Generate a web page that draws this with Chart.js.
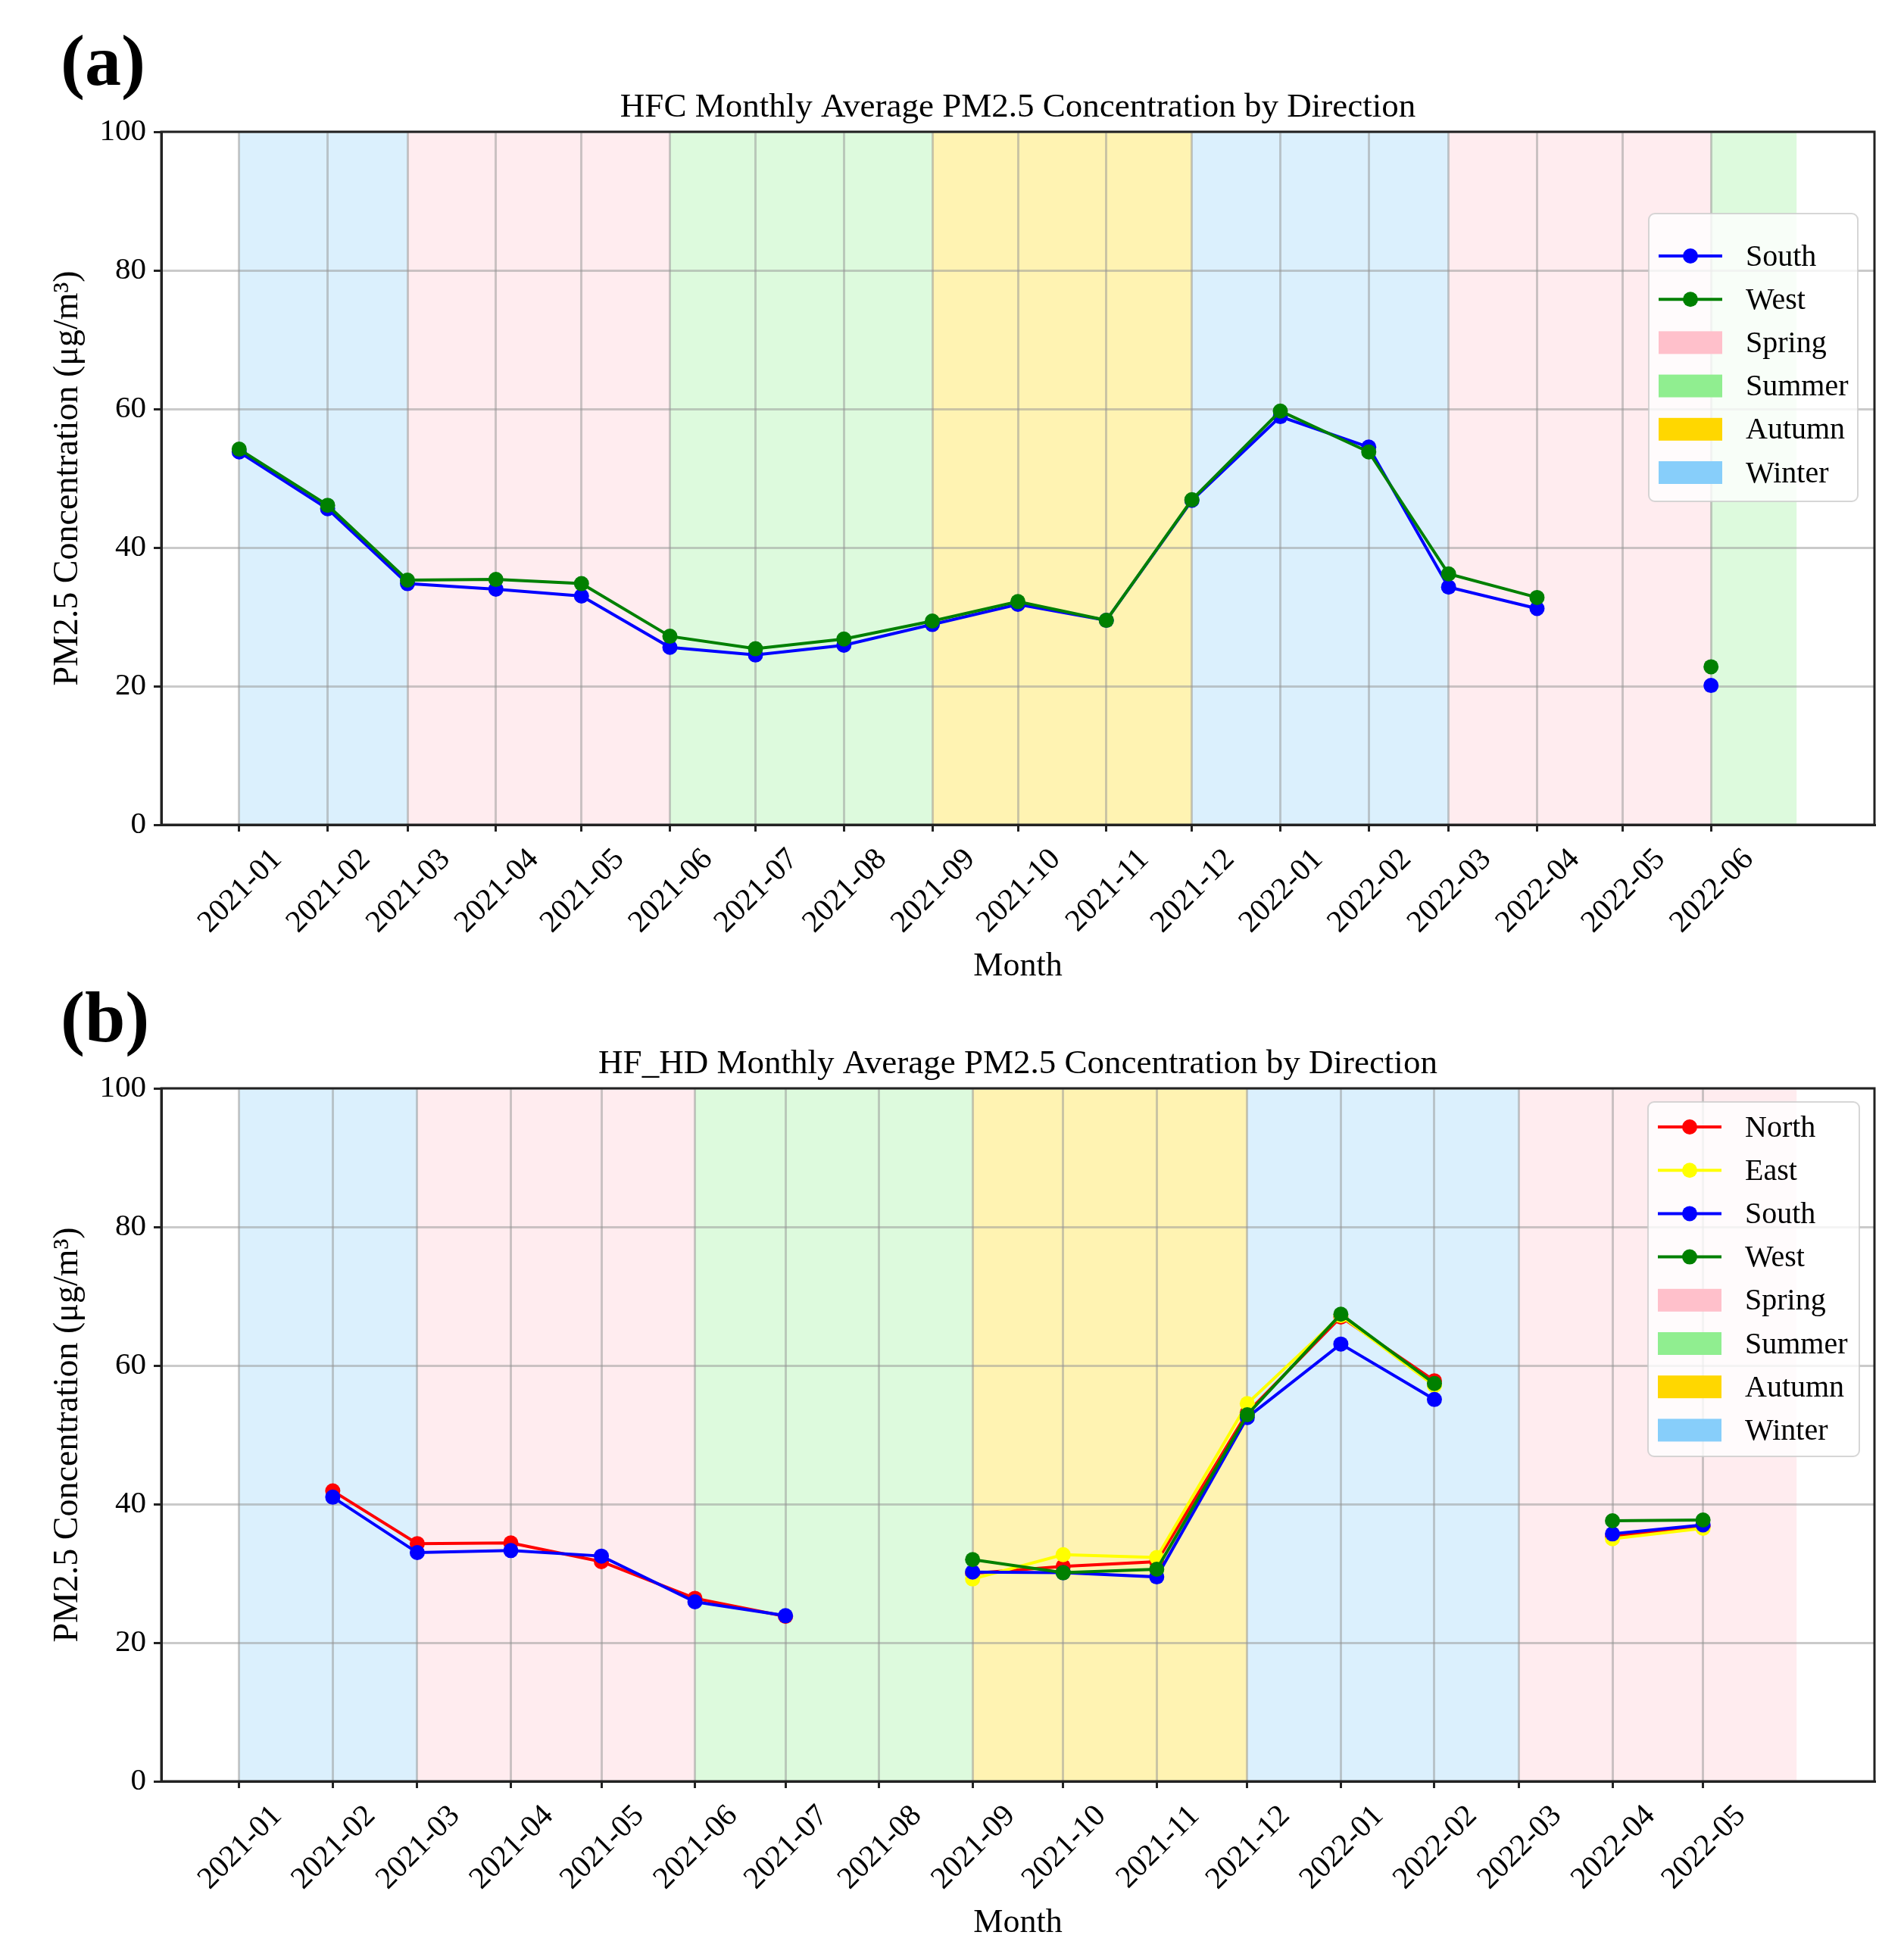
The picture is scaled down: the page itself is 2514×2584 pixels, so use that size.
<!DOCTYPE html>
<html>
<head>
<meta charset="utf-8">
<script src="https://cdn.jsdelivr.net/npm/chart.js@4.4.0/dist/chart.umd.min.js"></script>
<style>
  html, body { margin: 0; padding: 0; background: #fff; }
  #wrap { position: relative; width: 2514px; height: 2584px; overflow: hidden; }
  canvas { position: absolute; left: 0; }
  #chartA { top: 0; }
  #chartB { top: 1263px; }
</style>
</head>
<body>
<div id="wrap">
  <canvas id="chartA" width="2514" height="1321"></canvas>
  <canvas id="chartB" width="2514" height="1321"></canvas>
</div>
<script>
// panel (a): HFC
const monthsA = ['2021-01', '2021-02', '2021-03', '2021-04', '2021-05', '2021-06',
  '2021-07', '2021-08', '2021-09', '2021-10', '2021-11', '2021-12',
  '2022-01', '2022-02', '2022-03', '2022-04', '2022-05', '2022-06'];
const southA = [53.8, 45.6, 34.8, 34.0, 33.0, 25.6, 24.5, 25.9, 28.9, 31.8, 29.5, 46.8,
  58.9, 54.5, 34.3, 31.2, null, 20.1];
const westA = [54.2, 46.1, 35.3, 35.4, 34.8, 27.2, 25.4, 26.8, 29.4, 32.2, 29.5, 46.9,
  59.7, 53.8, 36.2, 32.8, null, 22.8];
const seasonA = ['Winter', 'Spring', 'Summer', 'Autumn', 'Winter', 'Spring', 'Summer'];
const seasonFromA = ['2021-01', '2021-03', '2021-06', '2021-09', '2021-12', '2022-03', '2022-06'];
const seasonToA = ['2021-03', '2021-06', '2021-09', '2021-12', '2022-03', '2022-06', '2022-07'];

// panel (b): HF_HD
const monthsB = ['2021-01', '2021-02', '2021-03', '2021-04', '2021-05', '2021-06',
  '2021-07', '2021-08', '2021-09', '2021-10', '2021-11', '2021-12',
  '2022-01', '2022-02', '2022-03', '2022-04', '2022-05'];
const northB = [null, 41.9, 34.3, 34.4, 31.7, 26.4, 23.8, null, 30.0, 31.0, 31.7, 53.2,
  67.0, 57.8, null, 35.3, 36.8];
const eastB = [null, null, null, null, null, null, null, null, 29.2, 32.7, 32.3, 54.5,
  67.2, 57.1, null, 35.0, 36.5];
const southB = [null, 41.0, 33.0, 33.3, 32.5, 25.9, 23.9, null, 30.2, 30.1, 29.5, 52.5,
  63.1, 55.1, null, 35.7, 37.0];
const westB = [null, null, null, null, null, null, null, null, 32.0, 30.1, 30.6, 52.9,
  67.4, 57.4, null, 37.6, 37.7];
const seasonB = ['Winter', 'Spring', 'Summer', 'Autumn', 'Winter', 'Spring'];
const seasonFromB = ['2021-01', '2021-03', '2021-06', '2021-09', '2021-12', '2022-03'];
const seasonToB = ['2021-03', '2021-06', '2021-09', '2021-12', '2022-03', '2022-06'];

const yTickStep = 20;
const yMax = 100;

const SERIF = '"Liberation Serif", "Times New Roman", serif';
const GRID = 'rgba(150, 150, 150, 0.5)';
const AXIS = '#222';
const SEASON_COLORS = {
  Spring: '#FFC0CB',
  Summer: '#90EE90',
  Autumn: '#FFD700',
  Winter: '#87CEFA',
};
const SEASON_ORDER = ['Spring', 'Summer', 'Autumn', 'Winter'];

Chart.defaults.font.family = SERIF;
Chart.defaults.color = '#000';

// days since 2021-01-01, like matplotlib date axis
function dayOf(label) {
  const [y, m] = label.split('-').map(Number);
  return (Date.UTC(y, m - 1, 1) - Date.UTC(2021, 0, 1)) / 86400000;
}

function withAlpha(hex, a) {
  const n = parseInt(hex.slice(1), 16);
  return `rgba(${(n >> 16) & 255}, ${(n >> 8) & 255}, ${n & 255}, ${a})`;
}

function panelPlugin(p) {
  return {
    id: 'panel' + p.tag,
    beforeDraw(chart) {
      const { ctx, chartArea: a, scales: { x } } = chart;
      ctx.save();
      p.seasons.forEach((name, i) => {
        const x1 = x.getPixelForValue(dayOf(p.from[i]));
        const x2 = x.getPixelForValue(dayOf(p.to[i]));
        ctx.fillStyle = withAlpha(SEASON_COLORS[name], 0.3);
        ctx.fillRect(x1, a.top, x2 - x1, a.bottom - a.top);
      });
      ctx.restore();
    },
    afterDatasetsDraw(chart) {
      const { ctx, chartArea: a } = chart;
      ctx.save();
      ctx.strokeStyle = AXIS;
      ctx.lineWidth = 3;
      ctx.strokeRect(a.left, a.top, a.right - a.left, a.bottom - a.top);
      ctx.restore();
    },
    afterDraw(chart) {
      const ctx = chart.ctx;
      ctx.save();
      // panel letter
      ctx.fillStyle = '#000';
      ctx.font = 'bold 96px ' + SERIF;
      ctx.textBaseline = 'alphabetic';
      ctx.textAlign = 'left';
      ctx.fillText('(' + p.tag + ')', 80, 112);

      // legend
      const L = p.legend;
      ctx.beginPath();
      ctx.roundRect(L.left, L.top, L.right - L.left, L.bottom - L.top, 8);
      ctx.fillStyle = 'rgba(255, 255, 255, 0.8)';
      ctx.fill();
      ctx.strokeStyle = 'rgba(204, 204, 204, 0.8)';
      ctx.lineWidth = 2;
      ctx.stroke();

      const entries = chart.data.datasets
        .map(d => ({ label: d.label, color: d.borderColor, line: true }))
        .concat(SEASON_ORDER.map(s => ({ label: s, color: SEASON_COLORS[s], line: false })));
      const hx0 = L.left + 13, hx1 = L.left + 97;
      entries.forEach((e, i) => {
        const cy = L.row0 + i * 57.2;
        if (e.line) {
          ctx.strokeStyle = e.color;
          ctx.lineWidth = 4;
          ctx.beginPath();
          ctx.moveTo(hx0, cy);
          ctx.lineTo(hx1, cy);
          ctx.stroke();
          ctx.fillStyle = e.color;
          ctx.beginPath();
          ctx.arc((hx0 + hx1) / 2, cy, 10, 0, Math.PI * 2);
          ctx.fill();
        } else {
          ctx.fillStyle = e.color;
          ctx.fillRect(hx0, cy - 15, hx1 - hx0, 30);
        }
        ctx.fillStyle = '#000';
        ctx.font = '40px ' + SERIF;
        ctx.textBaseline = 'middle';
        ctx.fillText(e.label, L.left + 128, cy + 2);
      });
      ctx.restore();
    },
  };
}

function makeChart(id, p) {
  const days = p.months.map(dayOf);
  const lo = dayOf(p.from[0]);
  const hi = dayOf(p.to[p.to.length - 1]);
  const margin = (hi - lo) * 0.05;

  const datasets = p.series.map((s, i) => ({
    label: s.name,
    data: s.values.map((v, j) => ({ x: days[j], y: v })),
    borderColor: s.color,
    backgroundColor: s.color,
    borderWidth: 4,
    pointRadius: 10,
    pointBorderWidth: 0,
    pointBackgroundColor: s.color,
    spanGaps: false,
    tension: 0,
    order: p.series.length - i,
  }));

  return new Chart(document.getElementById(id), {
    type: 'line',
    data: { datasets },
    options: {
      responsive: false,
      devicePixelRatio: 1,
      animation: false,
      events: [],
      layout: { padding: { left: 0, right: 39, top: 0, bottom: 0 } },
      plugins: {
        legend: { display: false },
        tooltip: { enabled: false },
        title: {
          display: true,
          fullSize: false,
          text: p.title,
          color: '#000',
          font: { family: SERIF, size: 45, weight: 'normal' },
          padding: { top: 115.5, bottom: 4.5 },
        },
      },
      scales: {
        x: {
          type: 'linear',
          bounds: 'data',
          min: lo - margin,
          max: hi + margin,
          afterBuildTicks: scale => { scale.ticks = days.map(v => ({ value: v })); },
          afterFit: scale => { scale.height = 232; },
          ticks: {
            autoSkip: false,
            minRotation: 45,
            maxRotation: 45,
            padding: 13,
            labelOffset: 50,
            color: '#000',
            font: { family: SERIF, size: 41 },
            callback: (v, i) => p.months[i],
          },
          grid: { color: GRID, lineWidth: 3, tickLength: 9, tickColor: AXIS, tickWidth: 3 },
          border: { display: true, color: AXIS, width: 3 },
          title: {
            display: true,
            text: 'Month',
            color: '#000',
            font: { family: SERIF, size: 44 },
            padding: { top: 0, bottom: 18 },
          },
        },
        y: {
          min: 0,
          max: yMax,
          afterFit: scale => { scale.width = 213; },
          ticks: {
            stepSize: yTickStep,
            padding: 10,
            color: '#000',
            font: { family: SERIF, size: 41 },
          },
          grid: { color: GRID, lineWidth: 3, tickLength: 10, tickColor: AXIS, tickWidth: 3 },
          border: { display: true, color: AXIS, width: 3 },
          title: {
            display: true,
            text: 'PM2.5 Concentration (μg/m³)',
            color: '#000',
            font: { family: SERIF, size: 46 },
            padding: { top: 62, bottom: 0 },
          },
        },
      },
    },
    plugins: [panelPlugin(p)],
  });
}

makeChart('chartA', {
  tag: 'a',
  title: 'HFC Monthly Average PM2.5 Concentration by Direction',
  months: monthsA,
  seasons: seasonA, from: seasonFromA, to: seasonToA,
  series: [
    { name: 'South', values: southA, color: '#0000FF' },
    { name: 'West', values: westA, color: '#008000' },
  ],
  legend: { left: 2177, right: 2453, top: 282, bottom: 662, row0: 338 },
});

makeChart('chartB', {
  tag: 'b',
  title: 'HF_HD Monthly Average PM2.5 Concentration by Direction',
  months: monthsB,
  seasons: seasonB, from: seasonFromB, to: seasonToB,
  series: [
    { name: 'North', values: northB, color: '#FF0000' },
    { name: 'East', values: eastB, color: '#FFFF00' },
    { name: 'South', values: southB, color: '#0000FF' },
    { name: 'West', values: westB, color: '#008000' },
  ],
  legend: { left: 2176, right: 2455, top: 192, bottom: 660, row0: 225 },
});
</script>
</body>
</html>
